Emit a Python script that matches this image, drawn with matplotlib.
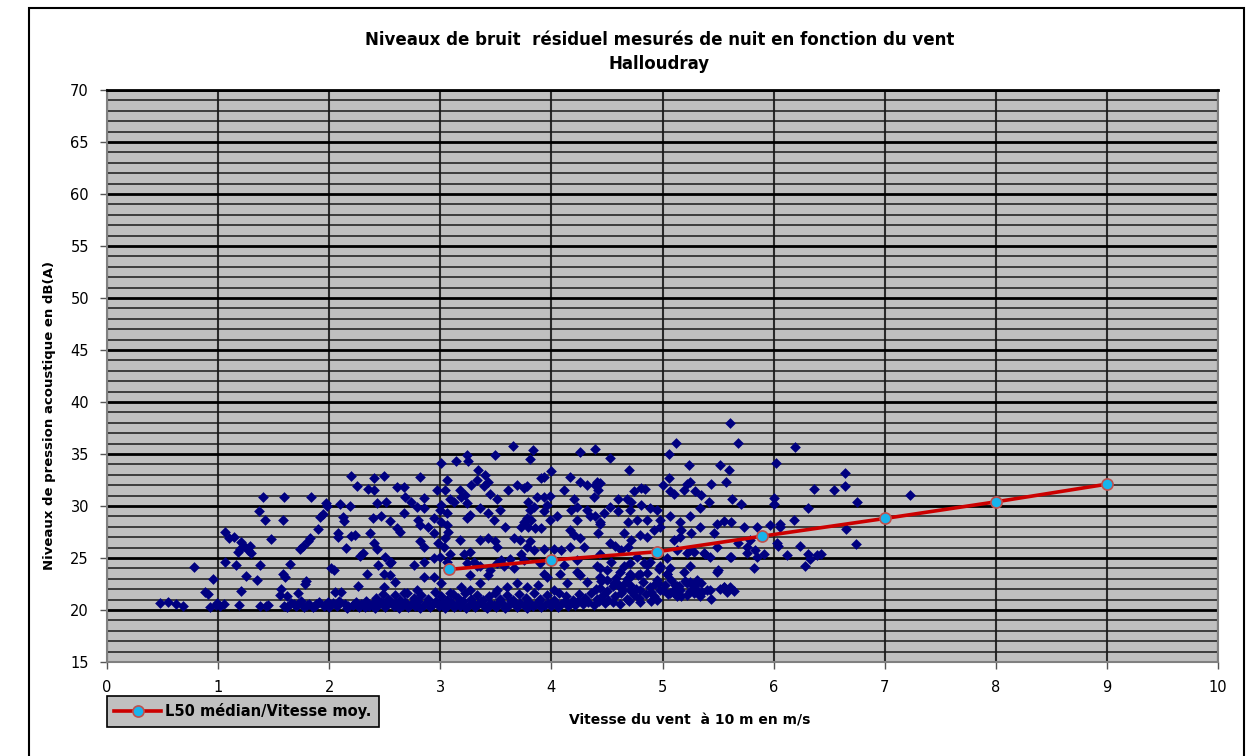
#
# Niveaux de bruit residuel de nuit en fonction du vent - Halloudray
# Scatter of night measurements + L50 median curve per wind class
#

import numpy as np
import matplotlib.pyplot as plt
from matplotlib.patches import Rectangle

# --- data (wind m/s, level dB(A)) ---

# low wind, x < 2.4
pts_low_wind = [
    (0.48, 20.7), (0.55, 20.8), (0.62, 20.6), (0.68, 20.4), (0.78, 24.1), (0.88, 21.7),
    (0.91, 21.5), (0.93, 20.3), (0.95, 23.0), (0.98, 20.5), (0.99, 20.7),
    (1.02, 20.4), (1.05, 20.6), (1.06, 24.6), (1.06, 27.5), (1.10, 26.9), (1.14, 27.0),
    (1.16, 24.3), (1.18, 25.6), (1.19, 20.5), (1.20, 25.9), (1.21, 21.8), (1.21, 26.5),
    (1.23, 26.2), (1.25, 23.3), (1.27, 25.8), (1.29, 26.2), (1.30, 25.5), (1.35, 22.9),
    (1.37, 29.5), (1.38, 24.3), (1.38, 20.4), (1.40, 30.9), (1.42, 28.7), (1.43, 20.4),
    (1.45, 20.5), (1.48, 26.8),
    (1.56, 21.4), (1.57, 22.0), (1.58, 23.5), (1.58, 28.7), (1.59, 30.9), (1.59, 20.4),
    (1.60, 23.2), (1.62, 21.3), (1.65, 24.4), (1.68, 20.6), (1.70, 20.4), (1.72, 21.6),
    (1.74, 25.9), (1.76, 26.2), (1.78, 22.5), (1.79, 22.8), (1.80, 20.5), (1.81, 26.6),
    (1.83, 26.9), (1.84, 30.9), (1.85, 20.3), (1.88, 20.6), (1.90, 27.8), (1.92, 28.9),
    (1.94, 29.2), (1.95, 20.4), (1.97, 30.3), (1.98, 30.0), (1.99, 20.8),
    (2.02, 24.0), (2.04, 23.8), (2.05, 21.7), (2.06, 20.5), (2.08, 27.4), (2.08, 27.0),
    (2.10, 30.2), (2.11, 21.7), (2.12, 28.9), (2.13, 28.6), (2.15, 26.0), (2.17, 20.4),
    (2.19, 30.0), (2.20, 32.9), (2.20, 27.1), (2.22, 20.6), (2.23, 27.2), (2.25, 31.9),
    (2.26, 22.3), (2.28, 25.2), (2.30, 25.5), (2.32, 20.3), (2.34, 23.5), (2.35, 31.6),
]

# mid wind, upper part of the cloud (x 2.4 - 4.45)
pts_mid_upper = [
    (2.40, 32.7), (2.49, 32.9), (2.40, 31.5), (2.43, 30.3), (2.51, 30.4),
    (2.39, 28.8), (2.47, 29.0), (2.55, 28.6), (2.61, 27.9), (2.64, 27.5),
    (2.37, 27.4), (2.40, 26.4), (2.43, 25.9), (2.50, 25.1), (2.56, 24.6),
    (2.82, 32.8), (2.61, 31.8), (2.67, 31.8), (2.68, 30.9), (2.74, 30.4), (2.85, 30.8),
    (2.67, 29.3), (2.79, 29.9), (2.85, 29.8), (2.80, 28.7), (2.82, 28.2), (2.89, 28.0),
    (2.94, 28.8), (2.82, 26.6), (2.85, 26.1), (2.94, 27.4),
    (3.01, 34.1), (3.14, 34.3), (3.24, 34.9), (3.25, 34.3), (3.49, 34.9), (3.65, 35.8),
    (3.83, 35.4), (3.81, 34.5), (4.00, 33.4), (4.26, 35.2), (4.39, 35.5),
    (3.06, 32.5), (3.04, 31.5), (2.97, 31.5),
    (3.18, 31.5), (3.22, 31.1), (3.28, 32.0), (3.34, 33.5), (3.33, 32.5), (3.40, 33.0),
    (3.43, 32.3), (3.39, 31.9),
    (3.09, 30.7), (3.12, 30.4), (3.01, 30.1), (3.00, 29.6), (3.06, 29.3),
    (3.19, 30.9), (3.24, 30.3), (3.27, 29.1), (3.24, 28.8), (3.36, 29.8), (3.45, 31.2),
    (3.51, 30.7), (3.54, 29.6),
    (3.43, 29.3), (3.48, 28.7), (3.36, 26.7), (3.43, 26.9), (3.49, 26.6), (3.51, 26.1),
    (3.27, 25.6), (3.21, 25.4),
    (3.01, 28.5), (3.06, 28.2), (3.07, 27.5), (3.04, 26.9), (2.98, 26.4), (3.03, 26.1),
    (3.09, 25.4), (3.00, 25.1), (3.18, 26.7),
    (3.61, 31.5), (3.69, 32.0), (3.75, 31.7), (3.78, 31.9), (3.87, 30.9), (3.93, 30.9),
    (3.99, 31.0),
    (3.79, 30.4), (3.84, 29.9), (3.81, 29.6), (3.78, 28.8), (3.75, 28.5), (3.82, 28.7),
    (3.93, 29.5), (3.96, 30.1),
    (3.58, 28.0), (3.66, 26.9), (3.73, 28.0), (3.79, 28.0), (3.85, 27.9), (3.91, 27.9),
    (3.99, 28.7), (4.05, 29.0),
    (3.72, 26.7), (3.81, 26.6), (3.78, 26.1), (3.84, 25.8), (3.73, 25.4), (3.63, 24.9),
    (3.55, 24.8), (3.51, 24.5), (3.93, 25.9), (4.02, 25.9), (3.91, 32.7), (3.93, 32.8),
    (4.17, 32.8), (4.26, 32.3), (4.32, 32.0), (4.39, 32.0), (4.44, 32.2),
    (4.11, 31.5), (4.20, 30.7), (4.23, 29.9), (4.18, 29.6), (4.32, 29.6), (4.23, 28.7),
    (4.17, 27.7), (4.20, 27.2),
    (4.38, 30.9), (4.35, 29.0), (4.44, 28.3), (4.26, 26.9), (4.29, 26.1), (4.17, 26.1),
    (4.09, 25.8), (2.85, 24.6), (2.94, 25.0), (3.06, 24.6), (3.30, 24.6), (3.36, 24.2),
]

# mid wind, lower part of the cloud (x 2.4 - 5.05, y < 25)
pts_mid_lower = [
    (2.44, 24.3), (2.55, 24.5), (2.76, 24.3), (3.24, 24.5), (3.33, 24.2), (3.45, 23.8),
    (3.57, 24.2), (3.66, 24.0),
    (2.49, 23.5), (2.55, 23.4), (2.85, 23.2), (2.94, 23.2), (3.01, 22.6), (3.27, 23.4),
    (3.43, 23.4),
    (2.49, 22.2), (2.59, 22.7), (2.67, 21.6), (2.79, 21.9), (3.09, 21.6), (3.19, 22.2),
    (3.27, 21.9), (3.36, 22.6), (3.51, 21.9), (3.60, 22.2), (3.69, 22.6),
    (3.75, 24.8), (3.90, 24.5), (4.11, 24.3), (4.23, 24.8), (4.44, 24.0), (4.54, 24.6),
    (4.71, 24.5), (4.86, 24.3), (4.98, 24.2),
    (3.93, 23.5), (3.96, 23.2), (4.08, 23.5), (4.23, 23.7), (4.26, 23.4), (4.44, 23.2),
    (4.62, 23.7), (4.68, 23.0), (4.80, 23.5), (4.95, 22.9), (5.04, 23.5),
    (3.78, 22.2), (3.88, 22.4), (4.02, 21.9), (4.14, 22.6), (4.32, 22.7), (4.44, 22.1),
    (4.56, 22.6), (4.62, 22.2), (4.71, 22.4), (4.80, 21.9), (4.89, 22.2), (4.98, 21.9),
]

# the dense floor of the cloud, 20 - 21.7 dB(A)
pts_floor = [
    (1.62, 20.3), (1.66, 20.7), (1.71, 20.5), (1.75, 20.9), (1.77, 20.3), (1.82, 20.6),
    (1.87, 20.4), (1.91, 20.8), (1.96, 20.5), (2.00, 20.3), (2.03, 20.7), (2.07, 20.4),
    (2.09, 20.9), (2.14, 20.6), (2.16, 20.2), (2.21, 20.5), (2.24, 20.8), (2.27, 20.3),
    (2.29, 20.6), (2.33, 20.9), (2.36, 20.4), (2.39, 20.7), (2.41, 20.2), (2.44, 20.5),
    (2.47, 20.8), (2.50, 20.3), (2.52, 20.6), (2.55, 20.9), (2.58, 20.4), (2.60, 20.7),
    (2.63, 20.2), (2.66, 20.5), (2.68, 20.8), (2.71, 20.3), (2.74, 20.6), (2.77, 20.4),
    (2.80, 20.9), (2.82, 20.2), (2.85, 20.5), (2.88, 20.7), (2.91, 20.3), (2.93, 20.6),
    (2.96, 20.9), (2.99, 20.4), (3.02, 20.7), (3.04, 20.2), (3.07, 20.5), (3.10, 20.8),
    (3.12, 20.3), (3.15, 20.6), (3.18, 20.4), (3.20, 20.9), (3.23, 20.2), (3.26, 20.5),
    (3.29, 20.7), (3.31, 20.3), (3.34, 20.6), (3.37, 20.9), (3.39, 20.4), (3.42, 20.2),
    (3.45, 20.7), (3.48, 20.5), (3.50, 20.3), (3.53, 20.8), (3.56, 20.6), (3.58, 20.2),
    (3.61, 20.4), (3.64, 20.9), (3.67, 20.6), (3.69, 20.3), (3.72, 20.7), (3.75, 20.5),
    (3.78, 20.2), (3.80, 20.8), (3.83, 20.4), (3.86, 20.6), (3.89, 20.9), (3.91, 20.3),
    (3.94, 20.5), (3.97, 20.7), (4.00, 20.4), (4.03, 20.8), (4.06, 20.3), (4.09, 20.6),
    (4.12, 20.9), (4.15, 20.4), (4.18, 20.7), (4.21, 20.5), (4.24, 20.9), (4.28, 20.6),
    (4.33, 20.8), (4.38, 20.5), (4.43, 20.9), (4.48, 20.7), (4.55, 20.8), (4.62, 20.6),
    (4.70, 20.9), (4.80, 20.8), (4.90, 20.9),
    (2.42, 21.2), (2.48, 21.5), (2.53, 21.1), (2.59, 21.4), (2.64, 21.0), (2.70, 21.6),
    (2.76, 21.2), (2.83, 21.4), (2.89, 21.1), (2.95, 21.7), (3.01, 21.3), (3.06, 21.0),
    (3.11, 21.5), (3.16, 21.2), (3.22, 21.6), (3.28, 21.1), (3.33, 21.4), (3.38, 21.0),
    (3.44, 21.3), (3.49, 21.6), (3.54, 21.1), (3.60, 21.4), (3.65, 21.0), (3.71, 21.5),
    (3.77, 21.2), (3.84, 21.6), (3.90, 21.1), (3.96, 21.4), (4.02, 21.0), (4.07, 21.6),
    (4.13, 21.3), (4.19, 21.0), (4.25, 21.5), (4.30, 21.2), (4.36, 21.6), (4.41, 21.1),
    (4.46, 21.4), (4.51, 21.0), (4.57, 21.3), (4.63, 21.6), (4.68, 21.1), (4.74, 21.4),
    (4.79, 21.2), (4.85, 21.5), (4.92, 21.3),
]

# higher wind, x 4.35 - 7.3
pts_high_wind = [
    (4.53, 34.6), (4.70, 33.5), (5.61, 38.0), (5.12, 36.1), (5.68, 36.1), (5.06, 35.0),
    (6.19, 35.7), (5.24, 33.9), (5.52, 33.9), (5.60, 33.5), (6.02, 34.1),
    (5.06, 32.7), (5.00, 32.0), (5.07, 31.4), (5.10, 31.2),
    (5.22, 32.1), (5.25, 32.3), (5.19, 31.5), (5.29, 31.4), (5.35, 31.1), (5.44, 32.1),
    (5.42, 30.4), (5.57, 32.3), (5.63, 30.7), (5.71, 30.2),
    (6.36, 31.6), (6.00, 30.8), (6.00, 30.2), (6.31, 29.8),
    (4.41, 32.3), (4.42, 31.5), (4.74, 31.4), (4.81, 31.7), (4.84, 31.6),
    (4.60, 30.7), (4.68, 30.7), (4.72, 30.4), (4.81, 30.1), (4.89, 29.8), (4.95, 29.6),
    (4.53, 29.9), (4.47, 29.3), (4.39, 29.0), (4.44, 28.5), (4.60, 29.5), (4.71, 29.6),
    (4.69, 28.5), (4.77, 28.7), (4.86, 28.7),
    (4.98, 28.7), (5.07, 29.0), (5.16, 28.5), (5.25, 29.0), (5.34, 29.8), (5.17, 27.7),
    (5.26, 27.4), (5.34, 28.0), (5.46, 27.4), (5.49, 28.3), (5.55, 28.6), (5.62, 28.5),
    (5.73, 28.0), (5.85, 28.0), (5.97, 28.2), (6.06, 28.3), (6.18, 28.7), (6.06, 28.0),
    (4.42, 27.4), (4.53, 26.4), (4.65, 27.4), (4.72, 26.7), (4.80, 27.2), (4.86, 27.0),
    (4.92, 27.7), (4.98, 28.0),
    (4.44, 25.4), (4.57, 26.2), (4.63, 25.8), (4.69, 26.1), (4.77, 25.1), (4.83, 24.5),
    (4.89, 24.6), (5.04, 25.0), (5.10, 26.7), (5.16, 27.0), (5.25, 25.8), (5.79, 26.7),
    (6.03, 26.4),
    (5.38, 25.4), (5.43, 25.1), (5.49, 26.1), (5.62, 25.1), (5.68, 26.4), (5.76, 26.1),
    (5.83, 25.8), (5.85, 25.1), (5.91, 25.4), (5.82, 24.0), (6.04, 26.2), (6.12, 25.3),
    (6.24, 26.2), (6.31, 25.4), (6.28, 24.2),
    (4.41, 24.2), (4.50, 23.8), (4.65, 24.2), (4.71, 23.5), (4.50, 22.9), (4.59, 22.6),
    (4.71, 21.9), (4.78, 23.4),
    (4.96, 22.6), (5.04, 23.5), (5.13, 22.3), (5.22, 22.6), (5.31, 22.9), (5.40, 21.9),
    (5.50, 23.8), (5.55, 22.2), (5.64, 21.8), (5.10, 21.6), (5.17, 21.3), (5.25, 21.8),
    (5.34, 21.3), (5.44, 21.1), (4.95, 21.0),
    (5.13, 25.8), (5.22, 25.5), (5.28, 25.6), (5.37, 25.5), (5.61, 25.1), (5.76, 25.5),
    (5.07, 24.0), (5.19, 23.7), (5.25, 24.2), (5.49, 23.7),
    (5.11, 22.4), (5.16, 21.9), (5.13, 21.3), (5.22, 21.4), (5.25, 22.7), (5.29, 22.4),
    (5.35, 22.6), (5.28, 21.6), (5.32, 21.8), (5.43, 21.9), (5.55, 22.2), (5.61, 22.2),
    (5.07, 21.6), (5.10, 21.9),
    (4.40, 22.0), (4.45, 22.8), (4.50, 21.8), (4.55, 22.3), (4.58, 23.1), (4.64, 21.9),
    (4.66, 22.6), (4.72, 23.3), (4.76, 22.0), (4.82, 22.7), (4.86, 23.6), (4.90, 21.7),
    (4.93, 22.5), (4.97, 23.9), (5.00, 21.9), (5.02, 22.4), (5.05, 21.5), (5.08, 22.9),
    (5.15, 22.3), (5.20, 22.8), (5.27, 22.5), (5.36, 21.7), (5.52, 22.0), (5.58, 21.7),
    (6.64, 33.2), (6.54, 31.5), (6.64, 31.9), (6.75, 30.4), (7.23, 31.1), (6.65, 27.8),
    (6.74, 26.3), (6.43, 25.4), (6.33, 24.9), (6.39, 25.3),
]

# L50 median per wind class
wind_median = [3.08, 4.0, 4.95, 5.9, 7.0, 8.0, 9.0]
l50_median = [23.9, 24.8, 25.6, 27.1, 28.8, 30.4, 32.1]

all_pts = np.array(pts_low_wind + pts_mid_upper + pts_mid_lower + pts_floor + pts_high_wind)
wind = all_pts[:, 0]
level = all_pts[:, 1]

# --- figure ---
W, H = 1256, 756
fig = plt.figure(figsize=(W / 100, H / 100), dpi=100)
ax = fig.add_axes([107 / W, 1 - 662 / H, (1218 - 107) / W, (662 - 90) / H])
ax.set_facecolor('#C0C0C0')

ax.set_xlim(0, 10)
ax.set_ylim(15, 70)
ax.set_xticks(range(0, 11))
ax.set_yticks(range(15, 71, 5))
ax.set_yticks([v for v in range(16, 70) if v % 5 != 0], minor=True)

# grid: thin every dB, thick every 5 dB, vertical every m/s
ax.set_axisbelow(True)
ax.grid(axis='y', which='minor', color='#1a1a1a', linewidth=1.1)
ax.grid(axis='y', which='major', color='black', linewidth=2.0)
ax.grid(axis='x', which='major', color='#2a2a2a', linewidth=1.5)

ax.tick_params(axis='both', which='major', direction='out', length=5,
               width=1, color='#555555', labelsize=10.5, pad=8)
ax.tick_params(axis='y', which='minor', length=0)
for side in ['left', 'bottom', 'right']:
    ax.spines[side].set_color('#808080')
    ax.spines[side].set_linewidth(1.5)
ax.spines['top'].set_color('black')
ax.spines['top'].set_linewidth(2)

# scatter of all night measurements
ax.scatter(wind, level, marker='D', s=30, color='#000080', linewidths=0, zorder=3)

# median line
ax.plot(wind_median, l50_median, color='#CC0000', linewidth=2.6, marker='o',
        markersize=8, markerfacecolor='#18B4EC', markeredgecolor='#C0504D',
        markeredgewidth=1.2, zorder=4, label='L50 médian/Vitesse moy.')

# legend box below the axes, on the left
leg = ax.legend(loc='upper left', bbox_to_anchor=(107 / W, 1 - 696 / H),
                bbox_transform=fig.transFigure, borderaxespad=0,
                fancybox=False, framealpha=1, facecolor='#C0C0C0',
                edgecolor='black', handlelength=3.2, handletextpad=0.3,
                borderpad=0.5, prop={'weight': 'bold', 'size': 10.5})
leg.get_frame().set_linewidth(1.2)

# titles and labels
fig.text(0.525, 1 - 40 / H, 'Niveaux de bruit  résiduel mesurés de nuit en fonction du vent',
         ha='center', va='center', fontsize=12, fontweight='bold')
fig.text(0.525, 1 - 64 / H, 'Halloudray', ha='center', va='center',
         fontsize=12, fontweight='bold')
fig.text(50 / W, 1 - 415 / H, 'Niveaux de pression acoustique en dB(A)', rotation=90,
         ha='center', va='center', fontsize=9.5, fontweight='bold')
fig.text(690 / W, 1 - 720 / H, 'Vitesse du vent  à 10 m en m/s', ha='center',
         va='center', fontsize=10, fontweight='bold')

# outer frame of the chart
frame = Rectangle((29 / W, -0.05), (1244 - 29) / W, 1.05 - 8 / H,
                  transform=fig.transFigure, fill=False, edgecolor='black', linewidth=1.5)
fig.add_artist(frame)

fig.savefig('out.png', dpi=100)
